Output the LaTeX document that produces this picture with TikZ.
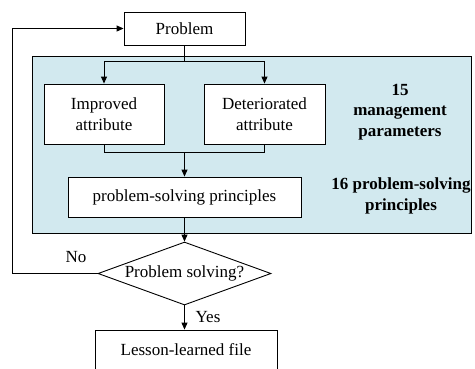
\documentclass[tikz,border=0pt]{standalone}
\usepackage{fontspec}
\setmainfont{Liberation Serif}
\usetikzlibrary{arrows.meta,shapes.geometric}
\definecolor{panelblue}{RGB}{210,233,239}
\tikzset{
  box/.style={draw=black, fill=white, line width=0.9pt, inner sep=0pt, align=center, font=\fontsize{17}{20.5}\selectfont},
  lbl/.style={inner sep=0pt, align=center, font=\fontsize{17}{20.5}\selectfont\bfseries},
  plain/.style={inner sep=0pt, font=\fontsize{17}{20.5}\selectfont},
  conn/.style={line width=0.9pt, draw=black},
  arr/.style={conn, -{Triangle[length=7pt,width=6pt]}}
}
\begin{document}
\begin{tikzpicture}[x=1pt,y=-1pt]
\useasboundingbox (0,0) rectangle (475,368);
\node[draw=black, line width=0.9pt, fill=panelblue, minimum width=439pt, minimum height=177pt, inner sep=0pt] (panel) at (251.5,144.5) {};
\node[box, minimum width=121pt, minimum height=33pt] (prob) at (184.5,28.5) {Problem};
\node[box, minimum width=120pt, minimum height=60pt] (imp) at (104,114) {Improved\\attribute};
\node[box, minimum width=121pt, minimum height=60pt] (det) at (264.5,114) {Deteriorated\\attribute};
\node[box, minimum width=233pt, minimum height=40pt] (psp) at (184.5,197) {problem-solving principles};
\node[box, shape=diamond, aspect=2.75, minimum width=173pt, minimum height=63pt] (dia) at (184.5,273.5) {Problem solving?};
\node[box, minimum width=182pt, minimum height=40pt] (les) at (186,350) {Lesson-learned file};
\node[lbl] (l15) at (400,112) {15\\management\\parameters};
\node[lbl] (l16) at (401,196) {16 problem-solving\\principles};
\node[plain] (no) at (76,257) {No};
\node[plain] (yes) at (208,317) {Yes};
\coordinate (split) at (184.5,61);
\coordinate (merge) at (184.5,152);
\draw[conn] (prob.south) -- (split);
\draw[arr] (split) -| (imp.north);
\draw[arr] (split) -| (det.north);
\draw[conn] (imp.south) |- (merge);
\draw[conn] (det.south) |- (merge);
\draw[arr] (merge) -- (psp.north);
\draw[arr] (psp.south) -- (dia.north);
\draw[arr] (dia.south) -- (dia.south |- les.north);
\coordinate (fbbot) at (12,273.5);
\coordinate (fbtop) at (12,28.5);
\draw[arr] (dia.west) -- (fbbot) -- (fbtop) -- (prob.west);
\end{tikzpicture}
\end{document}
